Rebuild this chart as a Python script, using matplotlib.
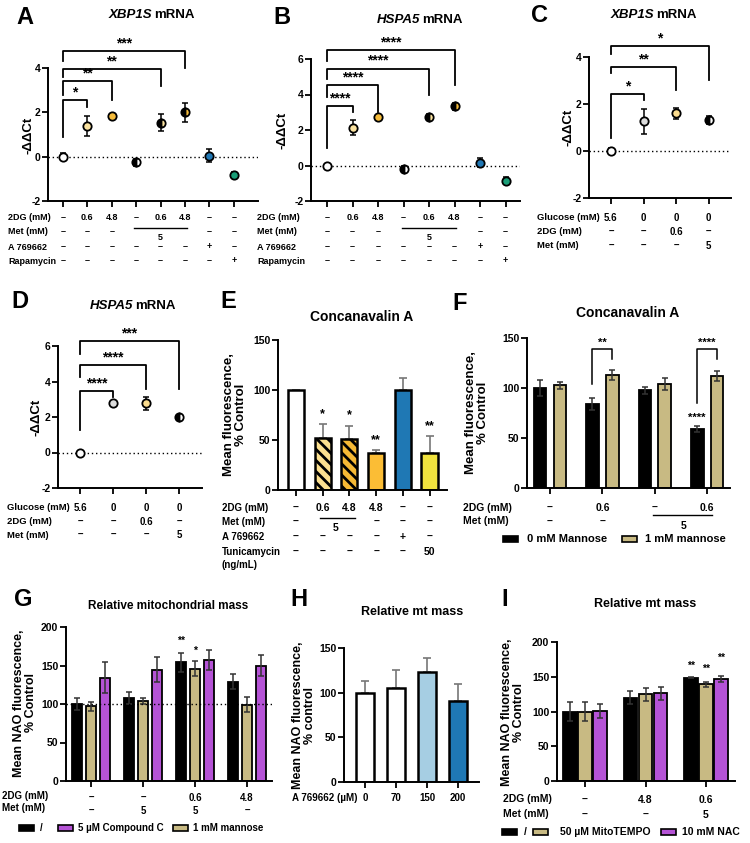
import numpy as np
import matplotlib
matplotlib.use("Agg")
import matplotlib.pyplot as plt
import matplotlib.transforms as mtransforms
from matplotlib.patches import Rectangle

# ---- data ----
# A: XBP1S mRNA (-ddCt)
a_vals = [0.0, 1.38, 1.83, -0.25, 1.53, 2.0, 0.05, -0.82]
a_errs = [0.15, 0.45, 0.08, 0.15, 0.38, 0.43, 0.28, 0.15]
# B: HSPA5 mRNA
b_vals = [0.0, 2.12, 2.74, -0.17, 2.74, 3.34, 0.15, -0.85]
b_errs = [0.1, 0.42, 0.1, 0.15, 0.15, 0.2, 0.25, 0.2]
ab_faces = ["white", "#FBE3A0", "#F6BC3B", "white", "#FBE3A0", "#F6BC3B", "#2077B4", "#1A9E77"]
ab_half = [False, False, False, True, True, True, False, False]
ab_2dg = ["–", "0.6", "4.8", "–", "0.6", "4.8", "–", "–"]
ab_met = ["–", "–", "–", "", "", "", "–", "–"]
ab_a76 = ["–", "–", "–", "–", "–", "–", "+", "–"]
ab_rapa = ["–", "–", "–", "–", "–", "–", "–", "+"]
# brackets: (right group, stars, top, left bottom, right bottom)
a_brackets = [(1, "*", 2.57, 0.9, 2.25), (2, "**", 3.4, 2.8, 2.55),
              (4, "**", 3.97, 3.6, 3.17), (5, "***", 4.75, 4.3, 4.0)]
b_brackets = [(1, "****", 3.34, 0.96, 3.0), (2, "****", 4.53, 3.87, 3.0),
              (4, "****", 5.46, 4.9, 3.96), (5, "****", 6.5, 5.9, 4.53)]

# C / D: glucose deprivation
c_vals = [0.0, 1.27, 1.6, 1.34]
c_errs = [0.12, 0.53, 0.25, 0.17]
d_vals = [0.0, 2.8, 2.77, 2.02]
d_errs = [0.1, 0.12, 0.35, 0.08]
cd_faces = ["white", "#DCDCDC", "#FBDC8E", "white"]
cd_half = [False, False, False, True]
cd_glc = ["5.6", "0", "0", "0"]
cd_2dg = ["–", "–", "0.6", "–"]
cd_met = ["–", "–", "–", "5"]
c_brackets = [(1, "*", 2.42, 0.54, 2.16), (2, "**", 3.57, 3.32, 2.61), (3, "*", 4.45, 4.14, 3.04)]
d_brackets = [(1, "****", 3.46, 1.27, 3.14), (2, "****", 4.92, 4.26, 3.55), (3, "***", 6.28, 5.53, 3.55)]

# E: Concanavalin A
e_vals = [100, 52.3, 51.3, 36.7, 100, 37.3]
e_errs = [0, 13.4, 13.0, 3.3, 11.7, 16.7]
e_colors = ["white", "#FCE08F", "#F6B935", "#FBBD35", "#1F78B4", "#F0E23E"]
e_hatch = [None, "\\\\\\", "\\\\\\", None, None, None]
e_stars = ["", "*", "*", "**", "", "**"]
e_2dg = ["–", "0.6", "4.8", "4.8", "–", "–"]
e_met = ["–", "", "", "–", "–", "–"]
e_a76 = ["–", "–", "–", "–", "+", "–"]
e_tun = ["–", "–", "–", "–", "–", "50"]

# F: Concanavalin A +/- mannose
f_m0 = [100, 83.7, 97.7, 59]
f_m0_err = [8, 6, 3.3, 3]
f_m1 = [103, 113, 103.7, 112]
f_m1_err = [3.5, 5, 6, 5]
f_2dg = ["–", "0.6", "–", "0.6"]
f_met = ["–", "–", "", ""]

# G: relative mitochondrial mass
g_ctrl = [100.4, 108, 154, 129]
g_ctrl_err = [7.6, 7.6, 12.7, 10]
g_mann = [97, 104, 146, 99]
g_mann_err = [5.6, 4, 10, 9.5]
g_cc = [134, 144.6, 156.7, 150]
g_cc_err = [20, 16.5, 13, 14]
g_2dg = ["–", "–", "0.6", "4.8"]
g_met = ["–", "5", "5", "–"]

# H: A 769662 dose
h_dose = ["0", "70", "150", "200"]
h_vals = [100, 105.7, 122.6, 91]
h_errs = [13.6, 19.2, 15.8, 19]
h_colors = ["white", "white", "#A6CEE3", "#1F78B4"]

# I: MitoTEMPO / NAC
i_ctrl = [99.8, 120, 148.7]
i_ctrl_err = [14, 9, 1]
i_mito = [100, 124.7, 139]
i_mito_err = [13, 9, 3.5]
i_nac = [100.7, 126, 147]
i_nac_err = [9.6, 9.5, 4.5]
i_2dg = ["–", "4.8", "0.6"]
i_met = ["–", "–", "5"]

TAN = "#C8BA83"
PURPLE = "#B553D6"

plt.rcParams["font.family"] = ["Liberation Sans", "DejaVu Sans"]
plt.rcParams["font.weight"] = "bold"
plt.rcParams["hatch.linewidth"] = 2.0
plt.rcParams["axes.unicode_minus"] = False

W, H = 750, 843
fig = plt.figure(figsize=(W / 100, H / 100), dpi=100)


def fx(x):
    return x / W


def fy(y):
    return 1 - y / H


def make_ax(left, right, top, bottom, first, step, ylim, yticks, nticks):
    ax = fig.add_axes([fx(left), fy(bottom), (right - left) / W, (bottom - top) / H])
    ax.set_xlim((left - first) / step, (right - first) / step)
    ax.set_ylim(*ylim)
    ax.set_yticks(yticks)
    ax.set_xticks(range(nticks))
    ax.set_xticklabels([])
    for s in ["top", "right"]:
        ax.spines[s].set_visible(False)
    for s in ["left", "bottom"]:
        ax.spines[s].set_linewidth(1.4)
    ax.tick_params(width=1.3, length=4, labelsize=7.5, pad=1.5)
    ax.patch.set_alpha(0)
    return ax


def ftext(x, y, s, **kw):
    fig.text(fx(x), fy(y), s, **kw)


def row(ax, vals, y, size=6.5, xs=None):
    tr = mtransforms.blended_transform_factory(ax.transData, fig.transFigure)
    if xs is None:
        xs = range(len(vals))
    for x, v in zip(xs, vals):
        if v:
            ax.text(x, fy(y), v, transform=tr, ha="center", va="center", fontsize=size, clip_on=False)


def uline(ax, x0, x1, y):
    tr = mtransforms.blended_transform_factory(ax.transData, fig.transFigure)
    ax.plot([x0, x1], [fy(y), fy(y)], transform=tr, color="k", lw=1, clip_on=False)


def bracket(ax, x1, stars, top, lbot, rbot, size=10):
    ax.plot([0, 0, x1, x1], [lbot, top, top, rbot], color="k", lw=1.3, clip_on=False)
    ax.annotate(stars, xy=(x1 / 2, top), xytext=(0, 0.5), textcoords="offset points",
                ha="center", va="bottom", fontsize=size, annotation_clip=False)


def dots(ax, vals, errs, faces, halves):
    xs = np.arange(len(vals))
    ax.errorbar(xs, vals, yerr=errs, fmt="none", ecolor="k", elinewidth=1.1,
                capsize=2.5, capthick=1.1, zorder=3)
    for x, v, f, h in zip(xs, vals, faces, halves):
        if h:
            ax.plot(x, v, "o", ms=6, fillstyle="left", mfc="k", markerfacecoloralt=f,
                    mec="k", mew=1.3, zorder=4, clip_on=False)
        else:
            ax.plot(x, v, "o", ms=6, mfc=f, mec="k", mew=1.3, zorder=4, clip_on=False)
    ax.axhline(0, color="k", lw=1, ls=(0, (1, 2)), zorder=1)


def split_title(xs, y, ital, rest, size=9.5):
    ftext(xs, y, ital, ha="right", va="center", fontsize=size, style="italic")
    ftext(xs + 2, y, rest, ha="left", va="center", fontsize=size)


def ylab(x, y, s, size=9):
    ftext(x, y, s, ha="center", va="center", rotation=90, fontsize=size, linespacing=1.05)


def letter(x, y, s):
    ftext(x, y, s, ha="center", va="center", fontsize=17)


def legend_item(xb, y, color, xt, text, size):
    fig.patches.append(Rectangle((fx(xb), fy(y + 3)), 15 / W, 6 / H, transform=fig.transFigure,
                                 facecolor=color, edgecolor="k", lw=1.2))
    ftext(xt, y, text, ha="left", va="center", fontsize=size)


def grouped(ax, series, errs, colors, offset, width, ecol="#333333"):
    n = len(series)
    for k, (vals, ee, c) in enumerate(zip(series, errs, colors)):
        xs = np.arange(len(vals)) + (k - (n - 1) / 2) * offset
        ax.bar(xs, vals, width, color=c, edgecolor="k", linewidth=1.3, zorder=2)
        ax.errorbar(xs, vals, yerr=ee, fmt="none", ecolor=ecol, elinewidth=1.1,
                    capsize=2.5, capthick=1.1, zorder=3)


# ---------- A ----------
ax = make_ax(48, 258, 68, 201, 63, 24.4, (-2, 4), [-2, 0, 2, 4], 8)
dots(ax, a_vals, a_errs, ab_faces, ab_half)
for br in a_brackets:
    bracket(ax, *br)
letter(25, 18, "A")
split_title(152, 15, "XBP1S", "mRNA")
ylab(29, 135, "-ΔΔCt", size=9.5)
for lab, vals, y in [("2DG (mM)", ab_2dg, 218), ("Met (mM)", ab_met, 232),
                     ("A 769662", ab_a76, 247), ("Rapamycin", ab_rapa, 261)]:
    ftext(8, y, lab, ha="left", va="center", fontsize=6.5)
    row(ax, vals, y)
uline(ax, 2.9, 5.1, 228)
row(ax, ["5"], 238, xs=[4])

# ---------- B ----------
ax = make_ax(311, 520, 59, 201, 327, 25.5, (-2, 6), [-2, 0, 2, 4, 6], 8)
dots(ax, b_vals, b_errs, ab_faces, ab_half)
for br in b_brackets:
    bracket(ax, *br)
letter(282, 18, "B")
split_title(420, 20, "HSPA5", "mRNA")
ylab(283, 130, "-ΔΔCt", size=9.5)
for lab, vals, y in [("2DG (mM)", ab_2dg, 218), ("Met (mM)", ab_met, 232),
                     ("A 769662", ab_a76, 247), ("Rapamycin", ab_rapa, 261)]:
    ftext(257, y, lab, ha="left", va="center", fontsize=6.5)
    row(ax, vals, y)
uline(ax, 2.95, 5.07, 228)
row(ax, ["5"], 238, xs=[4])

# ---------- C ----------
ax = make_ax(589, 731, 57, 198, 611, 32.6, (-2, 4), [-2, 0, 2, 4], 4)
dots(ax, c_vals, c_errs, cd_faces, cd_half)
for br in c_brackets:
    bracket(ax, *br)
letter(540, 15, "C")
split_title(654, 15, "XBP1S", "mRNA")
ylab(569, 127, "-ΔΔCt", size=9.5)
for lab, vals, y in [("Glucose (mM)", cd_glc, 218), ("2DG (mM)", cd_2dg, 232), ("Met (mM)", cd_met, 246)]:
    ftext(537, y, lab, ha="left", va="center", fontsize=6.8)
    row(ax, vals, y, size=7)

# ---------- D ----------
ax = make_ax(58, 202, 346, 488, 80, 33, (-2, 6), [-2, 0, 2, 4, 6], 4)
dots(ax, d_vals, d_errs, cd_faces, cd_half)
for br in d_brackets:
    bracket(ax, *br)
letter(20, 301, "D")
split_title(133, 306, "HSPA5", "mRNA")
ylab(36, 417, "-ΔΔCt", size=9.5)
for lab, vals, y in [("Glucose (mM)", cd_glc, 508), ("2DG (mM)", cd_2dg, 522), ("Met (mM)", cd_met, 535)]:
    ftext(7, y, lab, ha="left", va="center", fontsize=6.8)
    row(ax, vals, y, size=7)

# ---------- E ----------
ax = make_ax(278, 447, 340, 490, 296, 26.7, (0, 150), [0, 50, 100, 150], 6)
xs = np.arange(len(e_vals))
for x, v, c, h in zip(xs, e_vals, e_colors, e_hatch):
    ax.bar(x, v, 0.6, color=c, edgecolor="k", linewidth=1.8, hatch=h, zorder=2)
ax.errorbar(xs, e_vals, yerr=[np.zeros(len(e_errs)), e_errs], fmt="none", ecolor="#777777",
            elinewidth=1.2, capsize=3, capthick=1.2, zorder=1)
for x, v, e, s in zip(xs, e_vals, e_errs, e_stars):
    if s:
        ax.annotate(s, xy=(x, v + e), xytext=(0, 3), textcoords="offset points",
                    ha="center", va="bottom", fontsize=9)
letter(228, 301, "E")
ftext(362, 317, "Concanavalin A", ha="center", va="center", fontsize=10)
ylab(235, 415, "Mean fluorescence,\n% Control", size=9.5)
for lab, vals, y in [("2DG (mM)", e_2dg, 508), ("Met (mM)", e_met, 522), ("A 769662", e_a76, 537),
                     ("Tunicamycin", e_tun, 552)]:
    ftext(222, y, lab, ha="left", va="center", fontsize=7)
    row(ax, vals, y, size=7.5)
ftext(222, 565, "(ng/mL)", ha="left", va="center", fontsize=7)
uline(ax, 0.9, 2.2, 518)
row(ax, ["5"], 528, size=7.5, xs=[1.5])

# ---------- F ----------
ax = make_ax(527, 730, 338, 488, 550, 52.4, (0, 150), [0, 50, 100, 150], 4)
grouped(ax, [f_m0, f_m1], [f_m0_err, f_m1_err], ["black", TAN], 0.38, 0.24)
for g in [1, 3]:
    x0, x1 = g - 0.19, g + 0.19
    lb = f_m0[g] + f_m0_err[g] + (14 if g == 1 else 23)
    ax.plot([x0, x0, x1, x1], [lb, 139, 139, 129], color="k", lw=1.1, clip_on=False)
    ax.text(g, 140, "**" if g == 1 else "****", ha="center", va="bottom", fontsize=8)
ax.annotate("****", xy=(3 - 0.19, f_m0[3] + f_m0_err[3]), xytext=(0, 2), textcoords="offset points",
            ha="center", va="bottom", fontsize=8)
letter(460, 303, "F")
ftext(628, 313, "Concanavalin A", ha="center", va="center", fontsize=10)
ylab(477, 413, "Mean fluorescence,\n% Control", size=9.5)
ftext(463, 508, "2DG (mM)", ha="left", va="center", fontsize=7.5)
ftext(463, 521, "Met (mM)", ha="left", va="center", fontsize=7.5)
row(ax, f_2dg, 508, size=7.5)
row(ax, f_met, 522, size=7.5)
uline(ax, 1.96, 3.1, 515)
row(ax, ["5"], 526, size=7.5, xs=[2.55])
legend_item(503, 539, "black", 527, "0 mM Mannose", 8)
legend_item(622, 539, TAN, 645, "1 mM mannose", 8)

# ---------- G ----------
ax = make_ax(66, 272, 627, 781, 91, 52, (0, 200), [0, 50, 100, 150, 200], 4)
grouped(ax, [g_ctrl, g_mann, g_cc], [g_ctrl_err, g_mann_err, g_cc_err],
        ["black", TAN, PURPLE], 0.27, 0.19)
ax.axhline(100, color="k", lw=1, ls=(0, (1, 2)), zorder=4)
ax.text(2 - 0.27, 182, "**", ha="center", va="center", fontsize=7.5)
ax.text(2, 169, "*", ha="center", va="center", fontsize=7.5)
letter(23, 600, "G")
ftext(168, 606, "Relative mitochondrial mass", ha="center", va="center", fontsize=8.5)
ylab(25, 703, "Mean NAO fluorescence,\n% Control")
ftext(2, 796, "2DG (mM)", ha="left", va="center", fontsize=7)
ftext(2, 808, "Met (mM)", ha="left", va="center", fontsize=7)
row(ax, g_2dg, 798, size=7)
row(ax, g_met, 811, size=7)
legend_item(19, 828, "black", 40, "/", 7)
legend_item(58, 828, PURPLE, 78, "5 µM Compound C", 7)
legend_item(173, 828, TAN, 193, "1 mM mannose", 7)

# ---------- H ----------
ax = make_ax(344, 479, 648, 782, 365, 31, (0, 150), [0, 50, 100, 150], 4)
xs = np.arange(len(h_vals))
ax.bar(xs, h_vals, 0.61, color=h_colors, edgecolor="k", linewidth=1.8, zorder=2)
ax.errorbar(xs, h_vals, yerr=[np.zeros(len(h_errs)), h_errs], fmt="none", ecolor="#777777",
            elinewidth=1.2, capsize=3, capthick=1.2, zorder=1)
letter(299, 600, "H")
ftext(412, 612, "Relative mt mass", ha="center", va="center", fontsize=9)
ylab(304, 715, "Mean NAO fluorescence,\n% control")
ftext(292, 798, "A 769662 (µM)", ha="left", va="center", fontsize=7)
row(ax, h_dose, 798, size=7)

# ---------- I ----------
ax = make_ax(557, 735, 642, 781, 585, 60.5, (0, 200), [0, 50, 100, 150, 200], 3)
grouped(ax, [i_ctrl, i_mito, i_nac], [i_ctrl_err, i_mito_err, i_nac_err],
        ["black", TAN, PURPLE], 0.25, 0.22)
for k, yv in enumerate([165, 160.7, 177]):
    ax.text(2 + (k - 1) * 0.25, yv, "**", ha="center", va="center", fontsize=7.5)
letter(505, 600, "I")
ftext(645, 604, "Relative mt mass", ha="center", va="center", fontsize=9)
ylab(513, 712, "Mean NAO fluorescence,\n% Control")
ftext(503, 799, "2DG (mM)", ha="left", va="center", fontsize=7.5)
ftext(503, 814, "Met (mM)", ha="left", va="center", fontsize=7.5)
row(ax, i_2dg, 800, size=7.5)
row(ax, i_met, 815, size=7.5)
legend_item(502, 832, "black", 524, "/", 7.5)
legend_item(533, 832, TAN, 560, "50 µM MitoTEMPO", 7.5)
legend_item(661, 832, PURPLE, 682, "10 mM NAC", 7.5)

fig.savefig("out.png", dpi=100)
